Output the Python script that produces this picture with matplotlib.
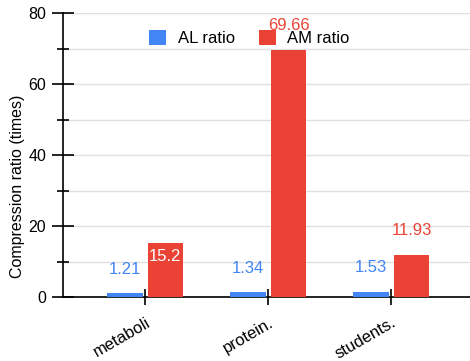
import matplotlib.pyplot as plt
import matplotlib.transforms as mtransforms
import numpy as np

plt.rcParams['font.family'] = ['Liberation Sans', 'DejaVu Sans']

categories = ["metaboli", "protein.", "students."]
al_ratio = [1.21, 1.34, 1.53]
am_ratio = [15.2, 69.66, 11.93]

blue = "#4285F4"
red = "#EA4335"

fig = plt.figure(figsize=(4.7, 3.61), dpi=100)
ax = fig.add_axes([0.134, 0.177, 0.866, 0.787])

x = np.arange(len(categories))
w = 0.29
ax.bar(x - 0.165, al_ratio, w, color=blue, label="AL ratio", zorder=3)
ax.bar(x + 0.165, am_ratio, w, color=red, label="AM ratio", zorder=3)

# value labels
for i, v in enumerate(al_ratio):
    ax.text(x[i] - 0.165, v + 6.7, f"{v:g}", color=blue, ha="center", va="center", fontsize=12, zorder=4)
for i, v in enumerate(am_ratio):
    if i == 0:
        ax.text(x[i] + 0.165, v - 3.9, f"{v:g}", color="white", ha="center", va="center", fontsize=12, zorder=4)
    else:
        ax.text(x[i] + 0.165, v + 6.7, f"{v:g}", color=red, ha="center", va="center", fontsize=12, zorder=4)

ax.set_xlim(-0.667, 2.64)
ax.set_ylim(0, 80)
ax.set_yticks([0, 20, 40, 60, 80])
ax.set_yticks([10, 30, 50, 70], minor=True)
ax.tick_params(axis="y", which="major", direction="inout", length=16, width=1.2, labelsize=11.5, pad=4)
ax.tick_params(axis="y", which="minor", direction="inout", length=9, width=1.2)
ax.grid(axis="y", which="both", color="#e0e0e0", linewidth=1, zorder=0)

ax.set_xticks(x)
ax.set_xticklabels(categories, rotation=30, ha="right", va="center", rotation_mode="anchor", fontsize=12)
ax.tick_params(axis="x", direction="inout", length=11, width=1.2, pad=12)
shift = mtransforms.ScaledTranslation(4 / 100, 0, fig.dpi_scale_trans)
for lab in ax.get_xticklabels():
    lab.set_transform(lab.get_transform() + shift)

for s in ["top", "right"]:
    ax.spines[s].set_visible(False)
ax.spines["left"].set_linewidth(1.2)
ax.spines["bottom"].set_linewidth(1.2)

ax.set_ylabel("Compression ratio (times)", fontsize=11.5)
ax.yaxis.set_label_coords(-0.093, 0.39)
ax.legend(loc="center", bbox_to_anchor=(0.458, 0.912), ncol=2, frameon=False,
          fontsize=12, handlelength=1.0, handleheight=1.0, columnspacing=1.45, handletextpad=0.7)

fig.savefig("out.png", dpi=100)
